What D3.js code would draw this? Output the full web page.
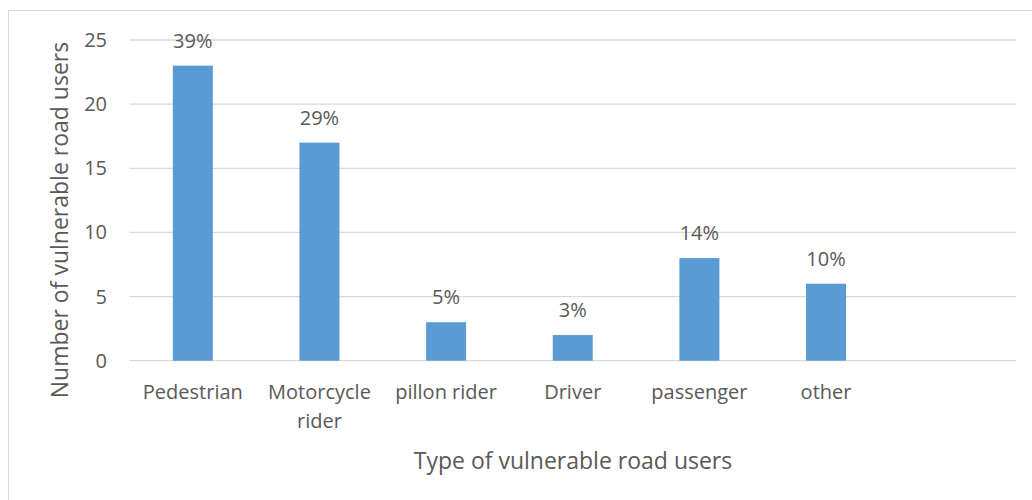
<!DOCTYPE html>
<html>
<head>
<meta charset="utf-8">
<script src="https://cdn.jsdelivr.net/npm/d3@7"></script>
<style>
  body { margin: 0; background: #fff; }
  text { font-family: "Open Sans", sans-serif; fill: #595959; }
</style>
</head>
<body>
<div id="chart"></div>
<script>
const width = 1032;
const height = 500;

// data
const categories = ['Pedestrian', 'Motorcycle rider', 'pillon rider', 'Driver', 'passenger', 'other', ''];
const counts = [23, 17, 3, 2, 8, 6, null];
const percentLabels = ['39%', '29%', '5%', '3%', '14%', '10%', ''];
const yTicks = [0, 5, 10, 15, 20, 25];

const bar_color = '#5B9BD5';
const grid_color = '#D9D9D9';

const margin = {left: 129.5, right: 16, top: 40, bottom: 139.3};

var svg = d3.select('#chart')
            .append('svg')
            .attr('width', width)
            .attr('height', height);

// chart frame
svg.append('rect')
    .attr('x', 8.5).attr('y', 10.5)
    .attr('width', 1040).attr('height', 520)
    .attr('fill', 'none')
    .attr('stroke', grid_color)
    .attr('stroke-width', 1);

var xScale = d3.scaleBand()
                .domain(d3.range(categories.length))
                .range([margin.left, width - margin.right])
                .paddingInner(0.684)
                .paddingOuter(0.342);

var yScale = d3.scaleLinear()
                .domain([0, 25])
                .range([height - margin.bottom, margin.top]);

// gridlines
svg.append('g')
    .selectAll('line')
    .data(yTicks)
    .enter()
    .append('line')
    .attr('x1', margin.left)
    .attr('x2', width - margin.right)
    .attr('y1', function(d){ return yScale(d); })
    .attr('y2', function(d){ return yScale(d); })
    .attr('stroke', grid_color)
    .attr('stroke-width', 1.3);

// y tick labels
svg.append('g')
    .selectAll('text')
    .data(yTicks)
    .enter()
    .append('text')
    .attr('x', 107)
    .attr('y', function(d){ return yScale(d); })
    .attr('dy', '0.35em')
    .attr('text-anchor', 'end')
    .style('font-size', '20px')
    .text(function(d){ return d; });

var barData = categories.map(function(c, i){
    return {i: i, name: c, value: counts[i], label: percentLabels[i]};
}).filter(function(d){ return d.value != null; });

// bars
svg.append('g')
    .selectAll('rect')
    .data(barData)
    .enter()
    .append('rect')
    .attr('x', function(d){ return xScale(d.i); })
    .attr('y', function(d){ return yScale(d.value); })
    .attr('width', xScale.bandwidth())
    .attr('height', function(d){ return yScale(0) - yScale(d.value); })
    .attr('fill', bar_color);

// percent labels
svg.append('g')
    .selectAll('text')
    .data(barData)
    .enter()
    .append('text')
    .attr('x', function(d){ return xScale(d.i) + xScale.bandwidth() / 2; })
    .attr('y', function(d){ return yScale(d.value) - 25; })
    .attr('dy', '0.35em')
    .attr('text-anchor', 'middle')
    .style('font-size', '20px')
    .text(function(d){ return d.label; });

// category labels, wrapped like the original
var wraps = {'Motorcycle rider': ['Motorcycle', 'rider']};
var catText = svg.append('g')
    .selectAll('text')
    .data(barData)
    .enter()
    .append('text')
    .attr('y', 392)
    .attr('text-anchor', 'middle')
    .style('font-size', '20px');
catText.each(function(d){
    var lines = wraps[d.name] || [d.name];
    var t = d3.select(this);
    lines.forEach(function(l, k){
        t.append('tspan')
            .attr('x', xScale(d.i) + xScale.bandwidth() / 2)
            .attr('dy', k == 0 ? '0.35em' : '29px')
            .text(l);
    });
});

// axis titles
svg.append('text')
    .attr('x', 573)
    .attr('y', 461)
    .attr('dy', '0.35em')
    .attr('text-anchor', 'middle')
    .style('font-size', '23px')
    .text('Type of vulnerable road users');

svg.append('text')
    .attr('transform', 'translate(60,220) rotate(-90)')
    .attr('dy', '0.35em')
    .attr('text-anchor', 'middle')
    .style('font-size', '23px')
    .text('Number of vulnerable road users');
</script>
</body>
</html>
